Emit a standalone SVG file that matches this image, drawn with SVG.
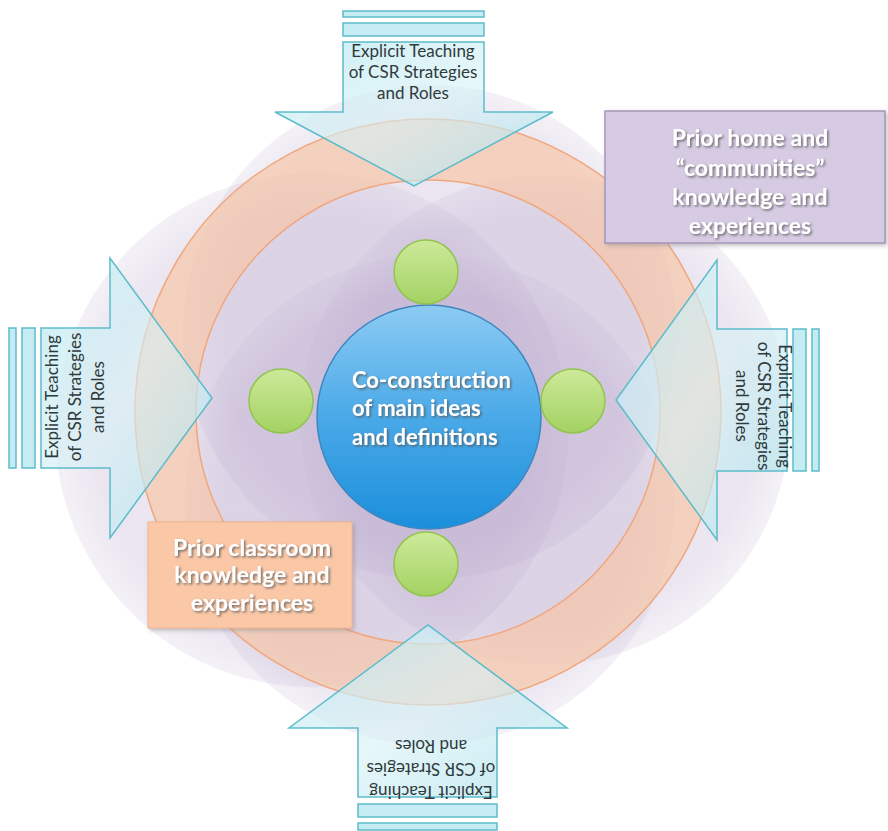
<svg xmlns="http://www.w3.org/2000/svg" width="888" height="831" viewBox="0 0 888 831">
<defs>
<style>
.purple{fill:url(#gPurple);}
.ring{fill:#f8c6a6;fill-opacity:0.68;stroke:#f0a77e;stroke-width:1.5;fill-rule:evenodd;}
.arrow{fill:url(#gArrow);stroke:#5dbccb;stroke-width:1.5;}
.bar{fill:#c5ecf3;stroke:#5dbccb;stroke-width:1.5;}
.atxt{font-family:"Lato","Open Sans",sans-serif;font-size:17px;fill:#2f3a3c;text-anchor:middle;}
.green{fill:url(#gGreen);stroke:#92c44e;stroke-width:1.5;}
.wtxt{font-family:"Lato","Open Sans",sans-serif;font-weight:bold;fill:#ffffff;filter:url(#shadow);}
</style>
<radialGradient id="gPurple" cx="0.5" cy="0.5" r="0.5">
<stop offset="0" stop-color="#b4a1c8" stop-opacity="0.27"/>
<stop offset="0.85" stop-color="#b4a1c8" stop-opacity="0.27"/>
<stop offset="1" stop-color="#c9bcd8" stop-opacity="0.22"/>
</radialGradient>
<linearGradient id="gArrow" x1="0" y1="0" x2="1" y2="1">
<stop offset="0" stop-color="#bfeaf2" stop-opacity="0.85"/>
<stop offset="0.5" stop-color="#d6f1f5" stop-opacity="0.6"/>
<stop offset="1" stop-color="#a9e1ec" stop-opacity="0.75"/>
</linearGradient>
<linearGradient id="gBlue" x1="0" y1="0" x2="0" y2="1">
<stop offset="0" stop-color="#8ccbf3"/>
<stop offset="0.5" stop-color="#4aa9e8"/>
<stop offset="1" stop-color="#1b8fdb"/>
</linearGradient>
<linearGradient id="gGreen" x1="0" y1="0" x2="0" y2="1">
<stop offset="0" stop-color="#cde99a"/>
<stop offset="1" stop-color="#a3d262"/>
</linearGradient>
<filter id="shadow" x="-10%" y="-20%" width="130%" height="150%">
<feDropShadow dx="1.5" dy="1.5" stdDeviation="1" flood-color="#555555" flood-opacity="0.8"/>
</filter>
<filter id="boxShadow" x="-5%" y="-5%" width="115%" height="120%">
<feDropShadow dx="2" dy="2" stdDeviation="2" flood-color="#888888" flood-opacity="0.5"/>
</filter>
</defs>
<rect width="888" height="831" fill="#ffffff"/>

<g id="background">
<circle class="purple" cx="430" cy="332" r="247"/>
<circle class="purple" cx="312" cy="430" r="257"/>
<circle class="purple" cx="545" cy="420" r="245"/>
<circle class="purple" cx="430" cy="500" r="245"/>
<path class="ring" d="M428,119 a293,293 0 1,0 0.01,0 Z M428,180 a232,232 0 1,0 0.01,0 Z"/>
</g>

<g id="center-node">
<circle cx="429" cy="417" r="112" fill="url(#gBlue)" stroke="#3f86c0" stroke-width="1.5"/>
<text class="wtxt" font-size="22"><tspan x="352" y="388">Co-construction</tspan><tspan x="352" y="416">of main ideas</tspan><tspan x="352" y="445">and definitions</tspan></text>
</g>

<g id="green-top"><circle class="green" cx="426" cy="272" r="32"/></g>
<g id="green-right"><circle class="green" cx="573" cy="401" r="32"/></g>
<g id="green-bottom"><circle class="green" cx="426" cy="564" r="32"/></g>
<g id="green-left"><circle class="green" cx="281" cy="401" r="32"/></g>

<g id="connectors">
<g id="arrow-top">
<rect class="bar" x="343" y="11" width="141" height="6"/>
<rect class="bar" x="343" y="23" width="141" height="13"/>
<path class="arrow" d="M343,42 H484 V112 H553 L414,186 L275,112 H343 Z"/>
<text class="atxt"><tspan x="413" y="57">Explicit Teaching</tspan><tspan x="413" y="78">of CSR Strategies</tspan><tspan x="413" y="99">and Roles</tspan></text>
</g>
<g id="arrow-left">
<rect class="bar" x="9" y="328" width="7" height="140"/>
<rect class="bar" x="22" y="328" width="13" height="140"/>
<path class="arrow" d="M41,328 H110 V258 L212,398 L110,538 V468 H41 Z"/>
<text class="atxt" transform="translate(0,397) rotate(-90)"><tspan x="0" y="58">Explicit Teaching</tspan><tspan x="0" y="81">of CSR Strategies</tspan><tspan x="0" y="104">and Roles</tspan></text>
</g>
<g id="arrow-right">
<rect class="bar" x="793" y="329" width="13" height="142"/>
<rect class="bar" x="812" y="329" width="7" height="142"/>
<path class="arrow" d="M787,329 H717 V260 L616,400 L717,540 V471 H787 Z"/>
<text class="atxt" transform="translate(800,406) rotate(90)"><tspan x="0" y="21">Explicit Teaching</tspan><tspan x="0" y="42">of CSR Strategies</tspan><tspan x="0" y="64">and Roles</tspan></text>
</g>
<g id="arrow-bottom">
<rect class="bar" x="358" y="804" width="139" height="13"/>
<rect class="bar" x="358" y="823" width="139" height="7"/>
<path class="arrow" d="M358,797 H497 V728 H567 L428,625 L289,728 H358 Z"/>
<text class="atxt" transform="translate(431,800) rotate(180)"><tspan x="0" y="14">Explicit Teaching</tspan><tspan x="0" y="37">of CSR Strategies</tspan><tspan x="0" y="60">and Roles</tspan></text>
</g>
</g>

<g id="label-home">
<rect x="605" y="111" width="280" height="132" fill="#d6cbe3" stroke="#a596b8" stroke-width="1.5" filter="url(#boxShadow)"/>
<text class="wtxt" font-size="23" text-anchor="middle"><tspan x="750" y="146">Prior home and</tspan><tspan x="750" y="176">“communities”</tspan><tspan x="750" y="205">knowledge and</tspan><tspan x="750" y="234">experiences</tspan></text>
</g>

<g id="label-classroom">
<rect x="148" y="522" width="204" height="106" fill="#fbc8a7" stroke="#f2b48e" stroke-width="1" filter="url(#boxShadow)"/>
<text class="wtxt" font-size="23" text-anchor="middle"><tspan x="252" y="556">Prior classroom</tspan><tspan x="252" y="583">knowledge and</tspan><tspan x="252" y="611">experiences</tspan></text>
</g>
</svg>
